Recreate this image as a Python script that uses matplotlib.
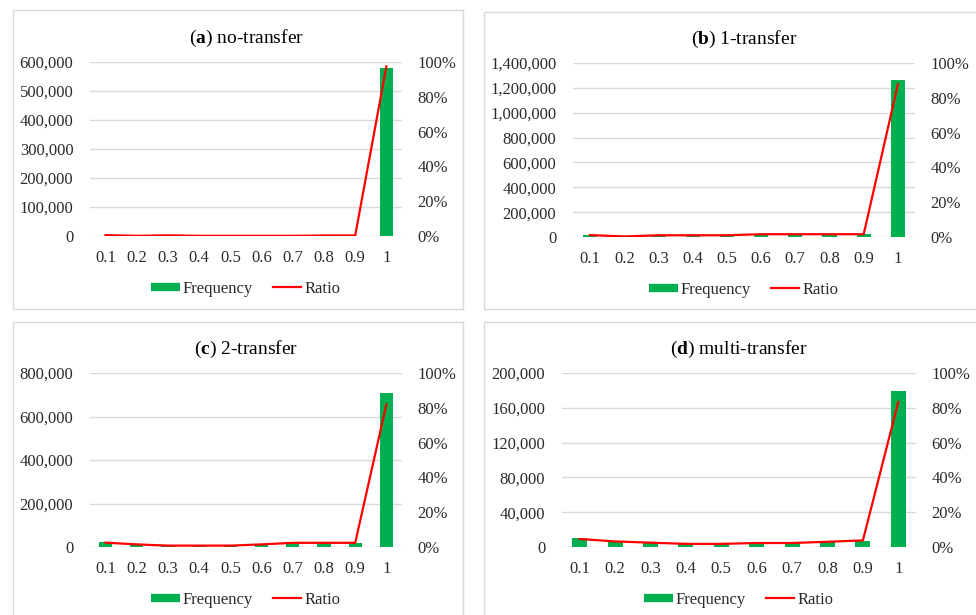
import matplotlib.pyplot as plt
import matplotlib.ticker as mticker
from matplotlib.lines import Line2D
from matplotlib.patches import Rectangle

plt.rcParams['font.family'] = ['Liberation Serif', 'DejaVu Serif']
plt.rcParams['mathtext.fontset'] = 'custom'
plt.rcParams['mathtext.rm'] = 'Liberation Serif'
plt.rcParams['mathtext.bf'] = 'Liberation Serif:bold'

bins = ['0.1', '0.2', '0.3', '0.4', '0.5', '0.6', '0.7', '0.8', '0.9', '1']

freq_no = [1500, 400, 1800, 500, 300, 300, 400, 1200, 1500, 580000]
ratio_no = [0.005, 0.001, 0.004, 0.001, 0.001, 0.001, 0.001, 0.003, 0.003, 0.975]

freq_one = [16000, 4000, 14000, 15000, 15000, 22000, 22000, 22000, 22000, 1261000]
ratio_one = [0.011, 0.003, 0.010, 0.010, 0.010, 0.016, 0.016, 0.016, 0.016, 0.878]

freq_two = [22000, 12000, 5000, 5000, 5000, 12000, 20000, 20000, 20000, 710000]
ratio_two = [0.025, 0.015, 0.008, 0.008, 0.008, 0.015, 0.024, 0.024, 0.024, 0.82]

freq_multi = [10300, 5700, 4500, 3500, 3500, 4500, 4500, 5500, 7300, 179000]
ratio_multi = [0.046, 0.032, 0.025, 0.018, 0.018, 0.023, 0.023, 0.030, 0.038, 0.834]

panels = [
    ('a', 'no-transfer', freq_no, ratio_no, 600000, 100000),
    ('b', '1-transfer', freq_one, ratio_one, 1400000, 200000),
    ('c', '2-transfer', freq_two, ratio_two, 800000, 200000),
    ('d', 'multi-transfer', freq_multi, ratio_multi, 200000, 40000),
]

W, H = 976, 615
# axes boxes in pixels: left, top, right, bottom
ax_px = [(90, 62, 402, 236), (573, 63, 915, 237),
         (90, 373, 402, 547), (562, 373, 916, 547)]
box_px = [(13, 10, 463, 309), (484, 12, 990, 309),
          (13, 322, 463, 630), (484, 322, 990, 630)]

GREEN = '#00B050'
RED = '#FF0000'
GRID = '#D9D9D9'
TXT = '#2B2B2B'

fig = plt.figure(figsize=(W / 100, H / 100), dpi=100)

for (x0, y0, x1, y1) in box_px:
    fig.patches.append(Rectangle((x0 / W, 1 - y1 / H), (x1 - x0) / W, (y1 - y0) / H,
                                 transform=fig.transFigure, fill=False,
                                 edgecolor=GRID, linewidth=1.0))

for (letter, name, freq, ratio, ymax, ystep), (l, t, r, b) in zip(panels, ax_px):
    ax = fig.add_axes([l / W, 1 - b / H, (r - l) / W, (b - t) / H])
    x = range(len(bins))
    ax.bar(x, freq, width=0.42, color=GREEN, zorder=2)
    ax.set_xlim(-0.5, len(bins) - 0.5)
    ax.set_ylim(0, ymax)
    ax.set_yticks(range(0, ymax + 1, ystep))
    ax.yaxis.set_major_formatter(mticker.FuncFormatter(lambda v, p: f'{int(v):,}'))
    ax.set_xticks(list(x))
    ax.set_xticklabels(bins)
    ax.grid(axis='y', color=GRID, linewidth=1.0, zorder=0)
    ax.set_axisbelow(True)
    for s in ax.spines.values():
        s.set_visible(False)
    ax.tick_params(length=0, labelsize=12, colors=TXT)
    ax.tick_params(axis='x', pad=10)
    ax.tick_params(axis='y', pad=12)

    ax2 = ax.twinx()
    ax2.plot(x, ratio, color=RED, linewidth=1.6, zorder=3)
    ax2.set_ylim(0, 1)
    ax2.set_yticks([0, 0.2, 0.4, 0.6, 0.8, 1.0])
    ax2.yaxis.set_major_formatter(mticker.PercentFormatter(1.0, decimals=0))
    for s in ax2.spines.values():
        s.set_visible(False)
    ax2.tick_params(length=0, labelsize=12, colors=TXT, pad=11)

    ax.set_title(rf'($\mathbf{{{letter}}}$) {name}', fontsize=14, pad=14)

    handles = [Line2D([], [], color=GREEN, linewidth=6, solid_capstyle='butt'),
               Line2D([], [], color=RED, linewidth=1.6)]
    ax.legend(handles, ['Frequency', 'Ratio'], loc='upper center',
              bbox_to_anchor=(0.5, -0.17), ncol=2, frameon=False, fontsize=12,
              handlelength=1.7, handletextpad=0.2, columnspacing=1.2,
              labelcolor=TXT)

fig.savefig('out.png', dpi=100)
